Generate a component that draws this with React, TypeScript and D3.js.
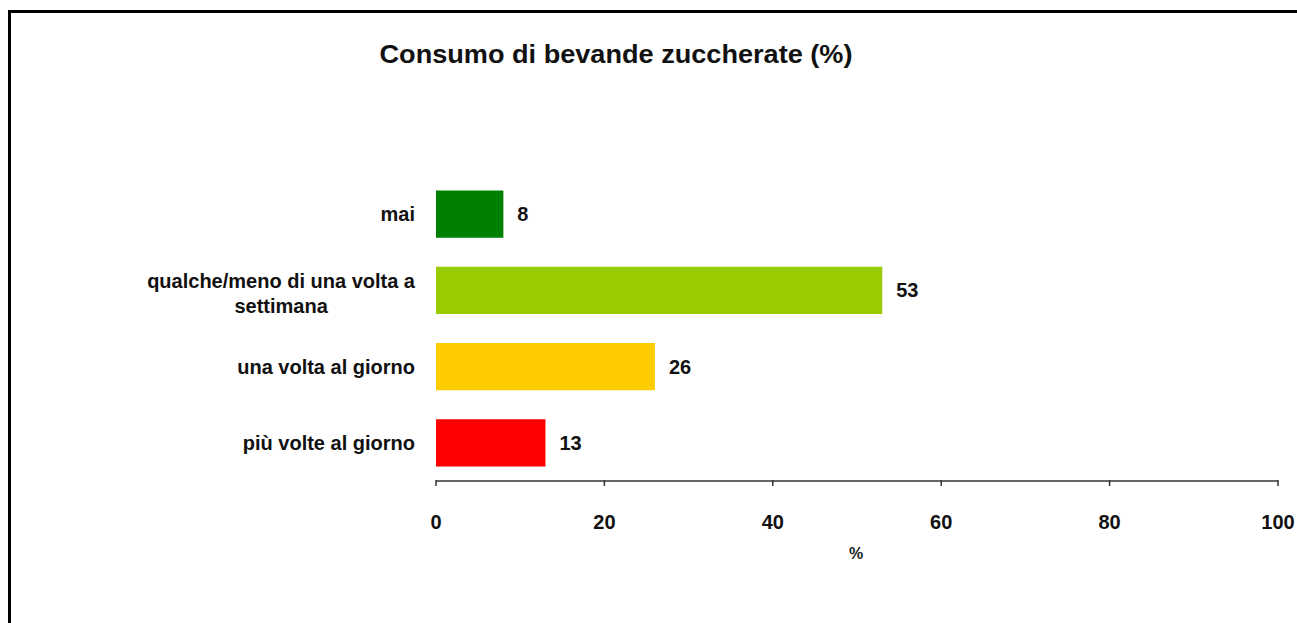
import React, { useEffect, useRef } from "react";
import * as d3 from "d3";

const categories: string[][] = [
  ["mai"],
  ["qualche/meno di una volta a", "settimana"],
  ["una volta al giorno"],
  ["più volte al giorno"],
];
const values: number[] = [8, 53, 26, 13];
const colors: string[] = ["#008000", "#99CC00", "#FFCC00", "#FF0000"];
const xTicks: number[] = [0, 20, 40, 60, 80, 100];
const title = "Consumo di bevande zuccherate (%)";
const xAxisTitle = "%";

const W = 1297;
const H = 623;
const FONT = "'Liberation Sans Narrow', 'Liberation Sans', Arial, sans-serif";

export default function App() {
  const ref = useRef<SVGSVGElement | null>(null);

  useEffect(() => {
    const svg = d3.select(ref.current);
    svg.selectAll("*").remove();

    const x = d3.scaleLinear().domain([0, 100]).range([436, 1278]);
    const y = d3
      .scaleBand<number>()
      .domain(d3.range(values.length))
      .range([176, 481])
      .paddingInner(0.38)
      .paddingOuter(0.19);

    svg.append("rect").attr("width", W).attr("height", H).attr("fill", "white");

    // border (top and left visible)
    svg
      .append("path")
      .attr("d", `M9.5,${H + 5}V11.5H${W + 5}`)
      .attr("fill", "none")
      .attr("stroke", "#000")
      .attr("stroke-width", 3);

    // title
    svg
      .append("text")
      .attr("x", 616)
      .attr("y", 63)
      .attr("text-anchor", "middle")
      .attr("font-family", FONT)
      .attr("font-weight", "bold")
      .attr("font-size", 26)
      .attr("textLength", 473)
      .attr("lengthAdjust", "spacingAndGlyphs")
      .attr("fill", "#111")
      .text(title);

    // bars
    svg
      .selectAll("rect.bar")
      .data(values)
      .join("rect")
      .attr("class", "bar")
      .attr("x", x(0))
      .attr("y", (_d, i) => y(i)!)
      .attr("width", (d) => x(d) - x(0))
      .attr("height", y.bandwidth())
      .attr("fill", (_d, i) => colors[i]);

    // value labels
    svg
      .selectAll("text.val")
      .data(values)
      .join("text")
      .attr("class", "val")
      .attr("x", (d) => x(d) + 14)
      .attr("y", (_d, i) => y(i)! + y.bandwidth() / 2)
      .attr("dy", "0.35em")
      .attr("font-family", FONT)
      .attr("font-weight", "bold")
      .attr("font-size", 20)
      .attr("fill", "#111")
      .text((d) => String(d));

    // category labels
    const labelRight = 415;
    const lineH = 25;
    categories.forEach((lines, i) => {
      const cy = y(i)! + y.bandwidth() / 2 + (lines.length > 1 ? 3 : 0);
      const g = svg.append("g");
      const first = g
        .append("text")
        .attr("x", labelRight)
        .attr("y", cy - ((lines.length - 1) * lineH) / 2)
        .attr("dy", "0.35em")
        .attr("text-anchor", "end")
        .attr("font-family", FONT)
        .attr("font-weight", "bold")
        .attr("font-size", 20)
        .attr("fill", "#111")
        .text(lines[0]);
      const w0 = (first.node() as SVGTextElement).getComputedTextLength();
      for (let k = 1; k < lines.length; k++) {
        g.append("text")
          .attr("x", labelRight - w0 / 2)
          .attr("y", cy - ((lines.length - 1) * lineH) / 2 + k * lineH)
          .attr("dy", "0.35em")
          .attr("text-anchor", "middle")
          .attr("font-family", FONT)
          .attr("font-weight", "bold")
          .attr("font-size", 20)
          .attr("fill", "#111")
          .text(lines[k]);
      }
    });

    // x axis
    const axisY = 481;
    const axis = svg.append("g").attr("transform", `translate(0,${axisY})`);
    axis
      .append("line")
      .attr("x1", x(0))
      .attr("x2", x(100))
      .attr("stroke", "#333")
      .attr("stroke-width", 1.5);
    axis
      .selectAll("line.tick")
      .data(xTicks)
      .join("line")
      .attr("class", "tick")
      .attr("x1", (d) => x(d))
      .attr("x2", (d) => x(d))
      .attr("y1", -1)
      .attr("y2", 5)
      .attr("stroke", "#333")
      .attr("stroke-width", 1.5);
    axis
      .selectAll("text.tl")
      .data(xTicks)
      .join("text")
      .attr("class", "tl")
      .attr("x", (d) => x(d))
      .attr("y", 41)
      .attr("dy", "0.35em")
      .attr("text-anchor", "middle")
      .attr("font-family", FONT)
      .attr("font-weight", "bold")
      .attr("font-size", 20)
      .attr("fill", "#111")
      .text((d) => String(d));

    svg
      .append("text")
      .attr("x", 856)
      .attr("y", 553)
      .attr("dy", "0.35em")
      .attr("text-anchor", "middle")
      .attr("font-family", FONT)
      .attr("font-weight", "bold")
      .attr("font-size", 16)
      .attr("fill", "#222")
      .text(xAxisTitle);
  }, []);

  return (
    <svg
      ref={ref}
      width={W}
      height={H}
      style={{ position: "absolute", left: 0, top: 0, display: "block", overflow: "hidden" }}
    />
  );
}
